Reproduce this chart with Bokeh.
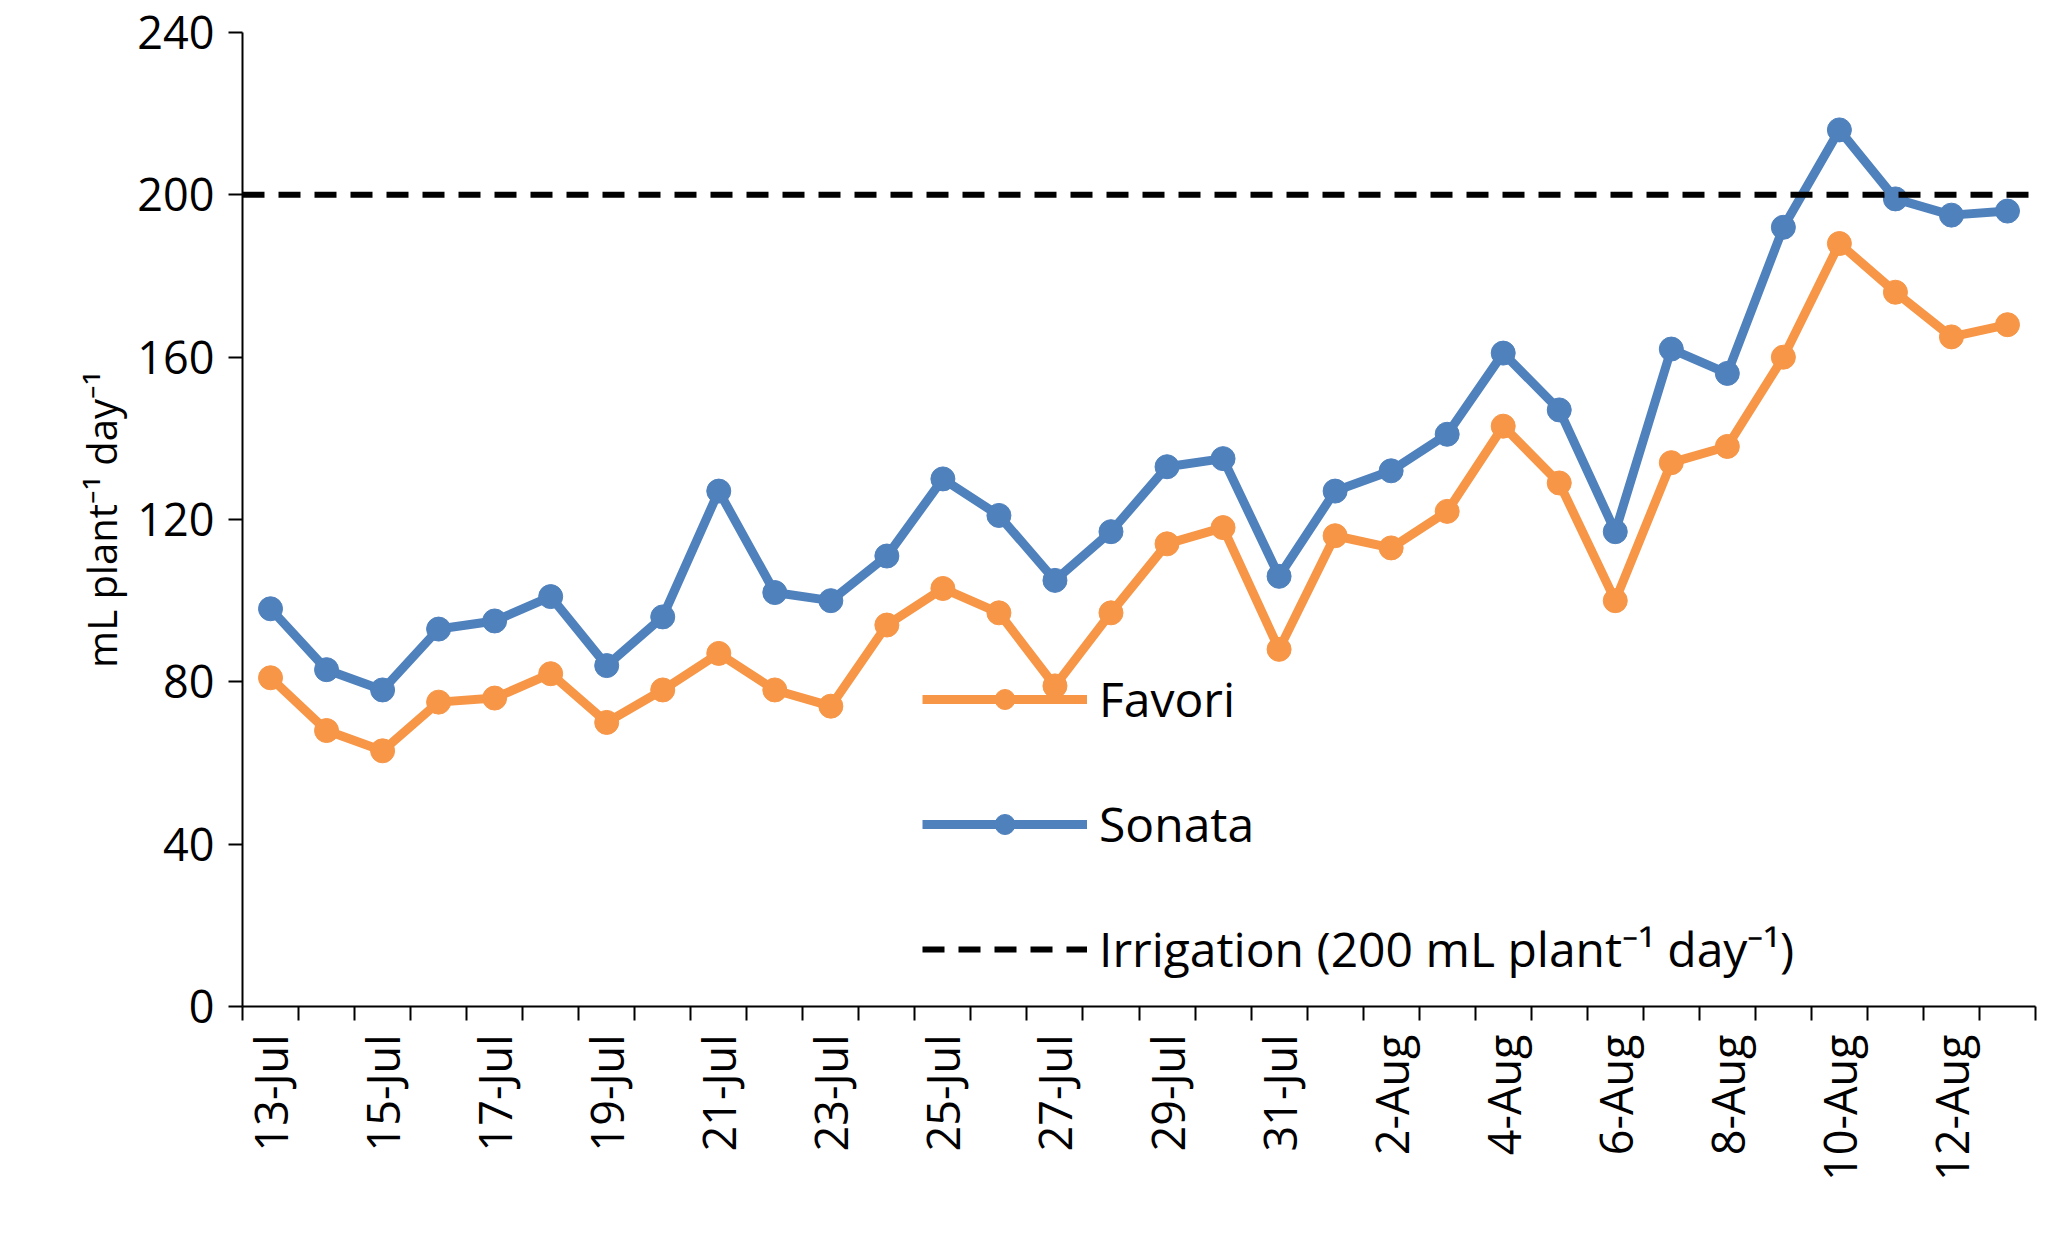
from bokeh.plotting import figure
from bokeh.models import FixedTicker, Legend, LegendItem, Range1d
from bokeh.embed import file_html
from bokeh.resources import INLINE
import math

dates = ["13-Jul","14-Jul","15-Jul","16-Jul","17-Jul","18-Jul","19-Jul","20-Jul","21-Jul","22-Jul",
         "23-Jul","24-Jul","25-Jul","26-Jul","27-Jul","28-Jul","29-Jul","30-Jul","31-Jul","1-Aug",
         "2-Aug","3-Aug","4-Aug","5-Aug","6-Aug","7-Aug","8-Aug","9-Aug","10-Aug","11-Aug","12-Aug","13-Aug"]
sonata = [98,83,78,93,95,101,84,96,127,102,100,111,130,121,105,117,133,135,106,127,132,141,161,147,117,162,156,192,216,199,195,196]
favori = [81,68,63,75,76,82,70,78,87,78,74,94,103,97,79,97,114,118,88,116,113,122,143,129,100,134,138,160,188,176,165,168]
irrigation = 200

x = list(range(len(dates)))
p = figure(width=2045, height=1225, output_backend="svg", toolbar_location=None,
           x_range=Range1d(-0.5, len(dates)-0.5), y_range=Range1d(0, 240))
p.min_border_left = 242; p.min_border_right = 10; p.min_border_top = 32; p.min_border_bottom = 219
p.outline_line_color = None
p.xgrid.visible = False; p.ygrid.visible = False

FONT = "Open Sans"
lt = [i for i in x if i % 2 == 0]
p.xaxis.ticker = FixedTicker(ticks=lt, minor_ticks=[i - 0.5 for i in range(len(dates)+1)])
p.xaxis.major_label_overrides = {i: dates[i] for i in lt}
p.xaxis.major_label_orientation = math.pi/2
p.xaxis.major_tick_line_color = None
p.xaxis.minor_tick_out = 14; p.xaxis.minor_tick_in = 0
p.xaxis.minor_tick_line_color = "black"; p.xaxis.minor_tick_line_width = 2
p.xaxis.major_label_standoff = 14
p.yaxis.ticker = FixedTicker(ticks=[0,40,80,120,160,200,240])
p.yaxis.major_tick_out = 14; p.yaxis.major_tick_in = 0
p.yaxis.minor_tick_line_color = None
p.yaxis.major_label_standoff = 14
for ax in (p.xaxis, p.yaxis):
    ax.axis_line_color = "black"; ax.axis_line_width = 2
    ax.major_tick_line_width = 2
    ax.major_label_text_font = FONT
    ax.major_label_text_font_size = "45px"
    ax.major_label_text_color = "black"
p.yaxis.axis_label = "mL plant⁻¹ day⁻¹"
p.yaxis.axis_label_text_font = FONT
p.yaxis.axis_label_text_font_size = "40px"
p.yaxis.axis_label_text_font_style = "normal"
p.yaxis.axis_label_text_color = "black"

orange = "#F79646"; blue = "#4F81BD"
lf = p.line(x, favori, line_color=orange, line_width=9)
sf = p.scatter(x, favori, size=24, color=orange)
ls = p.line(x, sonata, line_color=blue, line_width=9)
ss = p.scatter(x, sonata, size=24, color=blue)
ir = p.line([-0.5, len(dates)-0.5], [irrigation, irrigation], line_color="black", line_width=6, line_dash="22 14")

leg = Legend(items=[LegendItem(label="Favori", renderers=[lf, sf]),
                    LegendItem(label="Sonata", renderers=[ls, ss]),
                    LegendItem(label="Irrigation (200 mL plant⁻¹ day⁻¹)", renderers=[ir])],
             location=(680, 25), glyph_width=165, glyph_height=50, spacing=60,
             label_text_font=FONT, label_text_font_size="48px", label_text_color="black",
             label_standoff=12, background_fill_alpha=0, border_line_color=None)
p.add_layout(leg, "center")

open("out.html", "w").write(file_html(p, INLINE))
